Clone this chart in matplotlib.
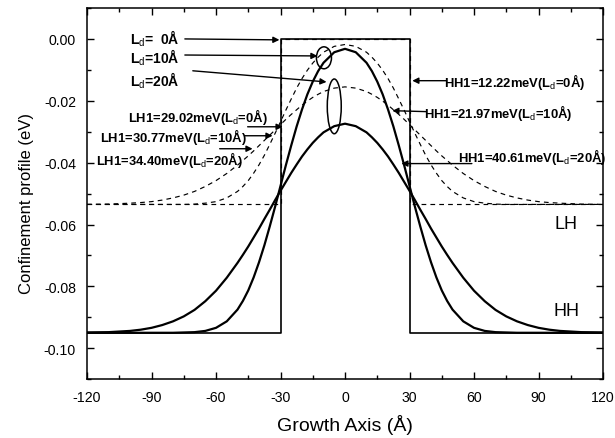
import numpy as np
import matplotlib
matplotlib.use("Agg")
import matplotlib.pyplot as plt
from matplotlib.patches import Ellipse
from matplotlib.ticker import MultipleLocator, FuncFormatter

plt.rcParams["font.family"] = ["Liberation Sans", "DejaVu Sans"]
plt.rcParams["mathtext.fontset"] = "custom"
plt.rcParams["mathtext.rm"] = "Liberation Sans"
plt.rcParams["mathtext.it"] = "Liberation Sans"
plt.rcParams["mathtext.bf"] = "Liberation Sans:bold"
plt.rcParams["axes.unicode_minus"] = False

# growth axis positions (Å)
z = [-120, -110, -100, -95, -90, -85, -80, -75, -70, -65, -60, -55, -50, -47.5, -45, -42.5, -40,
     -37.5, -35, -32.5, -30, -27.5, -25, -22.5, -20, -17.5, -15, -12.5, -10, -5, 0,
     5, 10, 12.5, 15, 17.5, 20, 22.5, 25, 27.5, 30, 32.5, 35, 37.5, 40, 42.5, 45, 47.5, 50,
     55, 60, 65, 70, 75, 80, 85, 90, 95, 100, 110, 120]

# heavy hole, Ld = 10 Å
hh_10 = [-0.0950, -0.0950, -0.0950, -0.0950, -0.0950, -0.0950, -0.0950, -0.0949, -0.0948, -0.0944,
         -0.0934, -0.0913, -0.0875, -0.0847, -0.0813, -0.0771, -0.0722, -0.0667, -0.0606, -0.0542,
         -0.0475, -0.0408, -0.0344, -0.0283, -0.0228, -0.0179, -0.0138, -0.0104, -0.0077, -0.0043,
         -0.0032,
         -0.0043, -0.0077, -0.0104, -0.0138, -0.0179, -0.0228, -0.0283, -0.0344, -0.0408, -0.0475,
         -0.0542, -0.0606, -0.0667, -0.0722, -0.0771, -0.0813, -0.0847, -0.0875, -0.0913, -0.0934,
         -0.0944, -0.0948, -0.0949, -0.0950, -0.0950, -0.0950, -0.0950, -0.0950, -0.0950, -0.0950]

# heavy hole, Ld = 20 Å
hh_20 = [-0.0949, -0.0948, -0.0944, -0.0940, -0.0934, -0.0925, -0.0913, -0.0897, -0.0876, -0.0848,
         -0.0814, -0.0772, -0.0724, -0.0698, -0.0671, -0.0642, -0.0613, -0.0582, -0.0552, -0.0521,
         -0.0491, -0.0462, -0.0433, -0.0406, -0.0380, -0.0357, -0.0336, -0.0318, -0.0302, -0.0282,
         -0.0274,
         -0.0282, -0.0302, -0.0318, -0.0336, -0.0357, -0.0380, -0.0406, -0.0433, -0.0462, -0.0491,
         -0.0521, -0.0552, -0.0582, -0.0613, -0.0642, -0.0671, -0.0698, -0.0724, -0.0772, -0.0814,
         -0.0848, -0.0876, -0.0897, -0.0913, -0.0925, -0.0934, -0.0940, -0.0944, -0.0948, -0.0949]

# light hole, Ld = 10 Å
lh_10 = [-0.0535, -0.0535, -0.0535, -0.0535, -0.0535, -0.0535, -0.0535, -0.0535, -0.0534, -0.0531,
         -0.0526, -0.0514, -0.0493, -0.0477, -0.0458, -0.0434, -0.0407, -0.0376, -0.0341, -0.0305,
         -0.0268, -0.0230, -0.0194, -0.0159, -0.0128, -0.0101, -0.0078, -0.0059, -0.0043, -0.0024,
         -0.0018,
         -0.0024, -0.0043, -0.0059, -0.0078, -0.0101, -0.0128, -0.0159, -0.0194, -0.0230, -0.0268,
         -0.0305, -0.0341, -0.0376, -0.0407, -0.0434, -0.0458, -0.0477, -0.0493, -0.0514, -0.0526,
         -0.0531, -0.0534, -0.0535, -0.0535, -0.0535, -0.0535, -0.0535, -0.0535, -0.0535, -0.0535]

# light hole, Ld = 20 Å
lh_20 = [-0.0535, -0.0534, -0.0531, -0.0529, -0.0526, -0.0521, -0.0514, -0.0505, -0.0493, -0.0477,
         -0.0458, -0.0435, -0.0408, -0.0393, -0.0378, -0.0362, -0.0345, -0.0328, -0.0311, -0.0294,
         -0.0277, -0.0260, -0.0244, -0.0229, -0.0214, -0.0201, -0.0189, -0.0179, -0.0170, -0.0159,
         -0.0155,
         -0.0159, -0.0170, -0.0179, -0.0189, -0.0201, -0.0214, -0.0229, -0.0244, -0.0260, -0.0277,
         -0.0294, -0.0311, -0.0328, -0.0345, -0.0362, -0.0378, -0.0393, -0.0408, -0.0435, -0.0458,
         -0.0477, -0.0493, -0.0505, -0.0514, -0.0521, -0.0526, -0.0529, -0.0531, -0.0534, -0.0535]

# as-grown square wells (Ld = 0)
z_sq = [-120, -30, -30, 30, 30, 120]
hh_sq = [-0.095, -0.095, 0.0, 0.0, -0.095, -0.095]
lh_sq = [-0.0535, -0.0535, 0.0, 0.0, -0.0535, -0.0535]

fig = plt.figure(figsize=(6.15, 4.39), dpi=100)
ax = fig.add_axes([0.1415, 0.134, 0.839, 0.8455])

dash = (0, (4, 3.5))
ax.plot(z_sq, lh_sq, color="black", lw=0.85, linestyle=dash)
ax.plot(z, lh_10, color="black", lw=0.85, linestyle=dash)
ax.plot(z, lh_20, color="black", lw=0.85, linestyle=dash)
ax.plot(z_sq, hh_sq, color="black", lw=1.2)
ax.plot(z, hh_10, color="black", lw=1.6)
ax.plot(z, hh_20, color="black", lw=1.6)

ax.add_patch(Ellipse((-9.8, -0.0061), 7, 0.0071, fill=False, lw=1.1, color="black"))
ax.add_patch(Ellipse((-5.0, -0.0218), 6.5, 0.0177, fill=False, lw=1.1, color="black"))

arr = dict(arrowstyle="-|>", color="black", lw=1.0, mutation_scale=9, shrinkA=0, shrinkB=0)


def arrow(tail, head):
    ax.annotate("", xy=head, xytext=tail, arrowprops=arr)


lab = dict(fontsize=9.4, fontweight="bold", va="center", ha="left")
ld = dict(fontsize=10, fontweight="bold", va="center", ha="left")

ax.text(-100, 0.0003, "L$_\\mathrm{d}$=  0Å", **ld)
ax.text(-100, -0.0058, "L$_\\mathrm{d}$=10Å", **ld)
ax.text(-100, -0.0131, "L$_\\mathrm{d}$=20Å", **ld)
arrow((-74.5, 0.0), (-30.5, -0.0003))
arrow((-74.5, -0.0052), (-12.8, -0.0055))
arrow((-70.8, -0.0103), (-8.6, -0.0139))

ax.text(-101, -0.0248, "LH1=29.02meV(L$_\\mathrm{d}$=0Å)", **lab)
ax.text(-114, -0.0313, "LH1=30.77meV(L$_\\mathrm{d}$=10Å)", **lab)
ax.text(-116, -0.0387, "LH1=34.40meV(L$_\\mathrm{d}$=20Å)", **lab)
arrow((-45.3, -0.0284), (-29.0, -0.0284))
arrow((-46.7, -0.0313), (-33.7, -0.0313))
arrow((-58.3, -0.0355), (-43.0, -0.0355))

ax.text(46.2, -0.0135, "HH1=12.22meV(L$_\\mathrm{d}$=0Å)", **lab)
ax.text(36.9, -0.0235, "HH1=21.97meV(L$_\\mathrm{d}$=10Å)", **lab)
ax.text(52.5, -0.0377, "HH1=40.61meV(L$_\\mathrm{d}$=20Å)", **lab)
arrow((47.0, -0.0135), (31.3, -0.0135))
arrow((37.7, -0.0235), (22.0, -0.0232))
arrow((59.0, -0.0403), (26.2, -0.0403))

ax.text(103, -0.0597, "LH", fontsize=13, ha="center", va="center")
ax.text(103, -0.0877, "HH", fontsize=13, ha="center", va="center")

ax.set_xlim(-120, 120)
ax.set_ylim(-0.11, 0.01)
ax.xaxis.set_major_locator(MultipleLocator(30))
ax.xaxis.set_minor_locator(MultipleLocator(15))
ax.yaxis.set_major_locator(MultipleLocator(0.02))
ax.yaxis.set_minor_locator(MultipleLocator(0.01))
ax.yaxis.set_major_formatter(FuncFormatter(lambda v, p: "%.2f" % v if abs(v) > 1e-9 else "0.00"))
ax.tick_params(which="both", direction="in", top=True, right=True, labelsize=10.2, width=1.0)
ax.tick_params(which="major", length=5, pad=8)
ax.tick_params(which="minor", length=3)
for s in ax.spines.values():
    s.set_linewidth(1.1)

ax.set_xlabel("Growth Axis (Å)", fontsize=14, labelpad=7)
ax.set_ylabel("Confinement profile (eV)", fontsize=12)
ax.yaxis.set_label_coords(-0.102, 0.477)

fig.savefig("out.png", dpi=100)
